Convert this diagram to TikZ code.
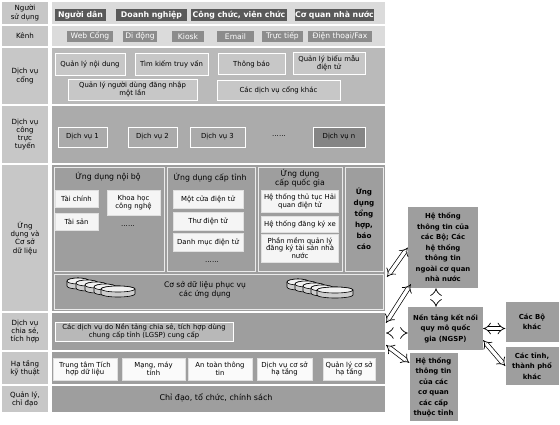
\documentclass[tikz,border=0pt]{standalone}
\usepackage{fontspec}
\setmainfont{DejaVu Sans}
\usetikzlibrary{calc,arrows.meta}

\begin{document}
\begin{tikzpicture}[x=1pt,y=-1pt,
	lbl/.style={align=center,inner sep=0pt,font=\fontsize{7.1}{8.3}\selectfont},
	ttl/.style={align=center,inner sep=0pt,font=\fontsize{7.8}{9}\selectfont},
	btn/.style={fill=black!65,text=white,inner sep=0pt,minimum height=12,font=\fontsize{7.8}{8}\selectfont\bfseries},
	chan/.style={fill=black!45,text=white,inner sep=0pt,minimum height=11,font=\fontsize{7.6}{8}\selectfont},
	pbox/.style={draw=white,line width=0.7pt,fill=black!22,align=center,inner sep=0.5pt,font=\fontsize{6.9}{7.6}\selectfont},
	app/.style={pbox,fill=black!4,draw=black!12},
	panel/.style={draw=black!8,line width=0.7pt},
	sidebox/.style={fill=black!38,align=center,inner sep=1pt,font=\fontsize{6.9}{10.5}\selectfont\bfseries},
	dbl/.style={double=white,double distance=3.4pt,line width=0.7pt,{Implies}-{Implies}}]
\useasboundingbox (0,0) rectangle (560,424);

\foreach \t/\b/\c/\txt [count=\i] in {2/24/14/{Người\\sử dụng}, 26/46/14/Kênh, 48/104/27/{Dịch vụ\\cổng}, 106/163/33/{Dịch vụ\\công\\trực\\tuyến}, 165/311/38/{Ứng\\dụng và\\Cơ sở\\dữ liệu}, 313/350/38/{Dịch vụ\\chia sẻ,\\tích hợp}, 352/384/38/{Hạ tầng\\kỹ thuật}, 386/412/38/{Quản lý,\\chỉ đạo}} {
	\fill[black!22] (2,\t) rectangle (48,\b);
	\fill[black!\c] (52,\t) rectangle (385,\b);
	\node[lbl] (row\i) at (25,{(\t+\b)/2}) {\txt};
}

\foreach \x/\w/\txt [count=\i] in {80.5/51/Người dân, 151.5/71/Doanh nghiệp, 239/96/{Công chức, viên chức}, 334.5/79/Cơ quan nhà nước}
	\node[btn,minimum width=\w] (user\i) at (\x,15) {\txt};
\foreach \x/\w/\txt [count=\i] in {90/46/Web Cổng, 140/34/Di động, 188/32/Kiosk, 235.5/37/Email, 282.5/41/Trực tiếp, 340/64/{Điện thoại/Fax}}
	\node[chan,minimum width=\w] (kenh\i) at (\x,36.5) {\txt};

\foreach \x/\y/\w/\h/\txt [count=\i] in {90/64/70/22/Quản lý nội dung, 171.5/64/73/22/Tìm kiếm truy vấn, 251.5/64/67/21/Thông báo, 329/63/72/22/{Quản lý biểu mẫu\\điện tử}, 132.5/89.5/129/21/{Quản lý người dùng đăng nhập\\một lần}, 278.5/90/123/20/Các dịch vụ cổng khác}
	\node[pbox,minimum width=\w,minimum height=\h] (cong\i) at (\x,\y) {\txt};

\foreach \x/\w/\txt [count=\i] in {82.5/49/Dịch vụ 1, 152.5/49/Dịch vụ 2, 217.5/55/Dịch vụ 3}
	\node[pbox,fill=black!33,minimum width=\w,minimum height=20] (dv\i) at (\x,137) {\txt};
\node[lbl] (dvdots) at (279,136) {......};
\node[pbox,fill=black!48,minimum width=52,minimum height=20] (dvn) at (339,137) {Dịch vụ n};

\draw[panel] (54,167) rectangle (164,271);
\draw[panel] (167,167) rectangle (255,271);
\draw[panel] (258,167) rectangle (342,271);
\draw[panel] (345,167) rectangle (383,271);
\draw[panel] (54,274) rectangle (383,309);

\node[ttl] (noibo) at (108,177) {Ứng dụng nội bộ};
\node[ttl] (captinh) at (210,178) {Ứng dụng cấp tỉnh};
\node[ttl] (quocgia) at (300,178) {Ứng dụng\\cấp quốc gia};
\node[ttl,font=\fontsize{7.2}{11}\selectfont\bfseries] (tonghop) at (364,219) {Ứng\\dụng\\tổng\\hợp,\\báo\\cáo};

\node[app,minimum width=43,minimum height=17] (taichinh) at (76.5,198.5) {Tài chính};
\node[app,minimum width=53,minimum height=25] (khcn) at (133.5,202.5) {Khoa học\\công nghệ};
\node[app,minimum width=43,minimum height=17] (taisan) at (76.5,221.5) {Tài sản};
\node[lbl] (dots1) at (128,226) {......};
\foreach \y/\txt [count=\i] in {199/Một cửa điện tử, 221/Thư điện tử, 242.5/Danh mục điện tử}
	\node[app,minimum width=70,minimum height=18] (tinh\i) at (208,\y) {\txt};
\node[lbl] (dots2) at (212,262) {......};
\node[app,minimum width=77,minimum height=22] (qg1) at (300,201) {Hệ thống thủ tục Hải\\quan điện tử};
\node[app,minimum width=77,minimum height=16] (qg2) at (300,224) {Hệ thống đăng ký xe};
\node[app,minimum width=77,minimum height=28] (qg3) at (300,248) {Phần mềm quản lý\\đăng ký tài sản nhà\\nước};

\foreach \cx/\cy/\r in {78/281/11, 87/283/11, 96/285/11, 105/287/11, 118/289/17, 298/282/11, 306/284/11, 314/286/11, 322/288/11, 335/290/18} {
	\filldraw[fill=black!20,line width=0.6pt] ({\cx-\r},\cy) -- ++(0,5) arc[start angle=180,end angle=360,x radius=\r pt,y radius=3pt] -- ++(0,-5) arc[start angle=0,end angle=180,x radius=\r pt,y radius=3pt] -- cycle;
	\draw[fill=black!6,line width=0.6pt] (\cx,\cy) ellipse[x radius=\r pt,y radius=3pt];
}
\node[ttl,font=\fontsize{7.6}{9}\selectfont] (csdl) at (205,290) {Cơ sở dữ liệu phục vụ\\các ứng dụng};

\node[pbox,fill=black!28,minimum width=178,minimum height=19] (lgsp) at (144,331.5) {Các dịch vụ do Nền tảng chia sẻ, tích hợp dùng\\chung cấp tỉnh (LGSP) cung cấp};

\foreach \x/\w/\txt [count=\i] in {85/64/{Trung tâm Tích\\hợp dữ liệu}, 153.5/63/{Mạng, máy\\tính}, 220/64/{An toàn thông\\tin}, 284.5/55/{Dịch vụ cơ sở\\hạ tầng}, 349/52/{Quản lý cơ sở\\hạ tầng}}
	\node[app,fill=black!2,minimum width=\w,minimum height=22] (ht\i) at (\x,369) {\txt};

\node[ttl,font=\fontsize{8}{9}\selectfont] (chidao) at (216,398) {Chỉ đạo, tổ chức, chính sách};

\node[sidebox,minimum width=70,minimum height=81] (htbo) at (443,247.5) {Hệ thống\\thông tin của\\các Bộ; Các\\hệ thống\\thông tin\\ngoài cơ quan\\nhà nước};
\node[sidebox,minimum width=75,minimum height=43] (ngsp) at (445.5,328.5) {Nền tảng kết nối\\quy mô quốc\\gia (NGSP)};
\node[sidebox,minimum width=48,minimum height=68] (httinh) at (433.5,387) {Hệ thống\\thông tin\\của các\\cơ quan\\các cấp\\thuộc tỉnh};
\node[sidebox,minimum width=53,minimum height=40] (bokhac) at (532,322) {Các Bộ\\khác};
\node[sidebox,minimum width=53,minimum height=38] (tinhkhac) at (532,366) {Các tỉnh,\\thành phố\\khác};

\coordinate (m1) at (387,277);
\coordinate (m2) at (386,323);
\coordinate (m3) at (386,333);
\coordinate (m4) at (386,345);
\draw[dbl] (m1) -- (htbo.west);
\draw[dbl] (m2) -- ($(htbo.south west)+(3,-4)$);
\draw[dbl] ($(htbo.south)+(-7,0)$) coordinate (v1) -- (v1 |- ngsp.north);
\draw[dbl] (m3) -- (m3 -| ngsp.west);
\draw[dbl] (m4) -- ($(httinh.north west)+(0,10)$);
\draw[dbl] (ngsp.east) -- (ngsp.east -| bokhac.west);
\draw[dbl] ($(ngsp.south east)+(0,-10)$) -- (tinhkhac.west);
\end{tikzpicture}
\end{document}
